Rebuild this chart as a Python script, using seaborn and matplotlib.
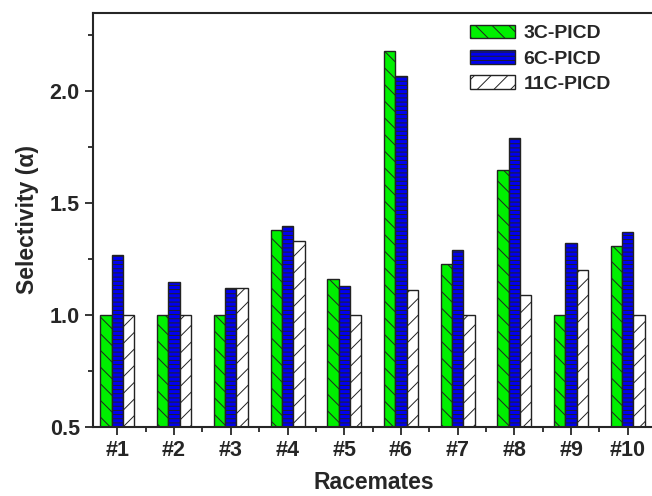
import numpy as np
import pandas as pd
import seaborn as sns
import matplotlib.pyplot as plt
from matplotlib.ticker import MultipleLocator, FixedLocator

racemates = ['#1', '#2', '#3', '#4', '#5', '#6', '#7', '#8', '#9', '#10']
series = ['3C-PICD', '6C-PICD', '11C-PICD']
sel_3c = [1.00, 1.00, 1.00, 1.38, 1.16, 2.18, 1.23, 1.65, 1.00, 1.31]
sel_6c = [1.27, 1.15, 1.12, 1.40, 1.13, 2.07, 1.29, 1.79, 1.32, 1.37]
sel_11c = [1.00, 1.00, 1.12, 1.33, 1.00, 1.11, 1.00, 1.09, 1.20, 1.00]

df = pd.DataFrame({'3C-PICD': sel_3c, '6C-PICD': sel_6c, '11C-PICD': sel_11c},
                  index=racemates)
df = df.reset_index(names='Racemates').melt(id_vars='Racemates', var_name='col', value_name='sel')

sns.set_style('ticks')
plt.rcParams['font.family'] = ['Liberation Sans', 'DejaVu Sans']
plt.rcParams['hatch.linewidth'] = 0.7

fig = plt.figure(figsize=(6.52, 4.96), dpi=100)
ax = fig.add_axes([93/652, 69/496, 562/652, 414/496])

colors = ['#00F000', '#0000F0', 'white']
hatches = ['\\\\', '----', '//']
sns.barplot(data=df, x='Racemates', y='sel', hue='col', order=racemates, hue_order=series,
            palette=colors, saturation=1, width=0.6, edgecolor='#222222', linewidth=1.0,
            ax=ax)

for cont, h in zip(ax.containers, hatches):
    for p in cont:
        p.set_hatch(h)

ax.set_ylim(0.5, 2.35)
ax.set_xlim(-0.43, 9.48)
ax.yaxis.set_major_locator(MultipleLocator(0.5))
ax.yaxis.set_minor_locator(MultipleLocator(0.25))
ax.xaxis.set_minor_locator(FixedLocator(np.arange(0.5, 9.5, 1)))

ax.tick_params(which='major', direction='out', length=6, width=1.3, labelsize=15.5)
ax.tick_params(which='minor', direction='out', length=3.5, width=1.3)
for lab in ax.get_xticklabels() + ax.get_yticklabels():
    lab.set_fontweight('bold')
for s in ax.spines.values():
    s.set_linewidth(1.5)

ax.set_xlabel('Racemates', fontsize=16.5, fontweight='bold', labelpad=7)
ax.set_ylabel('Selectivity (α)', fontsize=16.5, fontweight='bold', labelpad=8)

handles = [cont[0] for cont in ax.containers]
ax.legend(handles, series, loc='upper left', bbox_to_anchor=(0.65, 1.0), frameon=False,
          prop={'size': 14, 'weight': 'bold'}, handlelength=2.3, handleheight=0.7,
          labelspacing=0.4, handletextpad=0.45, borderaxespad=0.2)

fig.savefig('out.png', dpi=100)
